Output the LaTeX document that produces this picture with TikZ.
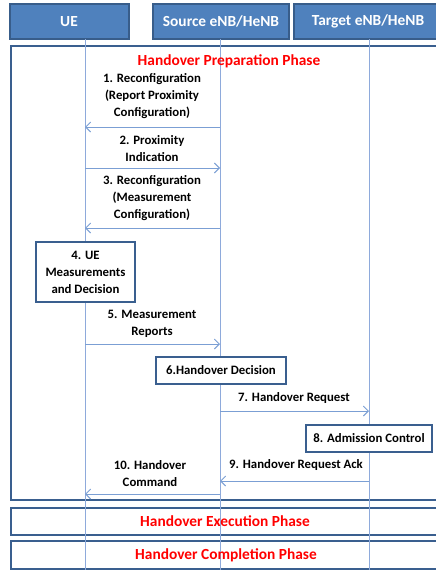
\documentclass[tikz,border=0pt]{standalone}
\usepackage{fontspec}
\setmainfont{Carlito}
\usetikzlibrary{arrows.meta}
\definecolor{hdrfill}{HTML}{4F81BD}
\definecolor{hdrline}{HTML}{385D8A}
\definecolor{frameline}{HTML}{3A5F8F}
\definecolor{lifeline}{HTML}{8EAADB}
\definecolor{msgline}{HTML}{7B9FD4}
\definecolor{phasered}{HTML}{FF0000}
\tikzset{
  px/.style={x=1pt,y=-1pt},
  hdr/.style={draw=hdrline,line width=1.6pt,fill=hdrfill,text=white,font=\fontsize{15.4}{18}\selectfont\bfseries},
  frm/.style={draw=frameline,line width=2.4pt},
  phase/.style={text=phasered,font=\fontsize{15.4}{18}\selectfont\bfseries},
  life/.style={draw=lifeline,line width=0.9pt},
  msg/.style={draw=msgline,line width=0.9pt,-{Straight Barb[length=5pt,width=10pt]}},
  lbl/.style={font=\fontsize{12.8}{17}\selectfont\bfseries,align=center,inner sep=0pt},
  act/.style={draw=frameline,line width=1.8pt,fill=white,font=\fontsize{12.8}{17}\selectfont\bfseries,align=center,inner sep=0pt}
}
\begin{document}
\begin{tikzpicture}[px]
\useasboundingbox (0,0) rectangle (436,570);
\clip (0,0) rectangle (436,570);
\fill[white] (0,0) rectangle (436,570);
% frames
\draw[frm] (11,46) rectangle (446,500);
\draw[frm] (11,508) rectangle (446,535);
\draw[frm] (11,541) rectangle (446,569);
% headers
\draw[hdr] (10,4) rectangle (129,39);
\draw[hdr] (153,4) rectangle (289,39);
\draw[hdr] (294,4) rectangle (446,39);
\node[hdr,draw=none,fill=none] (ue) at (69,21.5) {UE};
\node[hdr,draw=none,fill=none] (src) at (221,21.5) {Source eNB/HeNB};
\node[hdr,draw=none,fill=none] (tgt) at (368,21.5) {Target eNB/HeNB};
% lifelines
\coordinate (uetop) at (85,39);
\coordinate (srctop) at (220,39);
\coordinate (tgttop) at (369,39);
\coordinate (uebot) at (85,570);
\coordinate (srcbot) at (220,570);
\coordinate (tgtbot) at (369,570);
\draw[life] (uetop) -- (uebot);
\draw[life] (srctop) -- (srcbot);
\draw[life] (tgttop) -- (tgtbot);
% phase titles
\node[phase] (prep) at (229,61) {Handover Preparation Phase};
\node[phase] (exec) at (225,521.5) {Handover Execution Phase};
\node[phase] (comp) at (226,555) {Handover Completion Phase};
% messages
\coordinate (s1) at (220,127); \coordinate (u1) at (85,127);
\draw[msg] (s1) -- (u1);
\node[lbl] (l1) at (152,96) {1. Reconfiguration\\(Report Proximity\\Configuration)};
\coordinate (u2) at (85,168); \coordinate (s2) at (220,168);
\draw[msg] (u2) -- (s2);
\node[lbl] (l2) at (152,148.5) {2. Proximity\\Indication};
\coordinate (s3) at (220,228); \coordinate (u3) at (85,228);
\draw[msg] (s3) -- (u3);
\node[lbl] (l3) at (152,198) {3. Reconfiguration\\(Measurement\\Configuration)};
\node[act,minimum width=99pt,minimum height=60pt] (a4) at (85.5,272) {4. UE\\Measurements\\and Decision};
\coordinate (u5) at (85,344); \coordinate (s5) at (220,344);
\draw[msg] (u5) -- (s5);
\node[lbl] (l5) at (152,323.5) {5. Measurement\\Reports};
\node[act,minimum width=130pt,minimum height=27pt] (a6) at (221,370.5) {6.Handover Decision};
\coordinate (s7) at (220,411); \coordinate (t7) at (369,411);
\draw[msg] (s7) -- (t7);
\node[lbl] (l7) at (294,398) {7. Handover Request};
\node[act,minimum width=126pt,minimum height=27pt] (a8) at (369,438.5) {8. Admission Control};
\coordinate (t9) at (369,481); \coordinate (s9) at (220,481);
\draw[msg] (t9) -- (s9);
\node[lbl] (l9) at (296,465) {9. Handover Request Ack};
\coordinate (s10) at (220,494); \coordinate (u10) at (85,494);
\draw[msg] (s10) -- (u10);
\node[lbl] (l10) at (150,473.5) {10. Handover\\Command};
\end{tikzpicture}
\end{document}
